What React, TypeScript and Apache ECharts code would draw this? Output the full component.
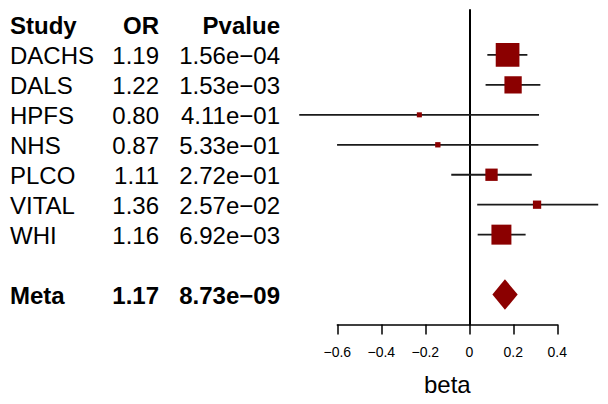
import React, { useEffect, useRef } from "react";
import * as echarts from "echarts";

const headers = ["Study", "OR", "Pvalue"];
const studies = ["DACHS", "DALS", "HPFS", "NHS", "PLCO", "VITAL", "WHI"];
const orValues = ["1.19", "1.22", "0.80", "0.87", "1.11", "1.36", "1.16"];
const pValues = ["1.56e\u221204", "1.53e\u221203", "4.11e\u221201", "5.33e\u221201", "2.72e\u221201", "2.57e\u221202", "6.92e\u221203"];
const beta = [0.174, 0.199, -0.227, -0.143, 0.101, 0.308, 0.146];
const lower = [0.082, 0.074, -0.773, -0.601, -0.082, 0.036, 0.038];
const upper = [0.264, 0.323, 0.317, 0.314, 0.284, 0.586, 0.256];
const weights = [37.7, 20.1, 1.7, 1.9, 10.2, 4.6, 26.8];

const metaLabel = ["Meta", "1.17", "8.73e\u221209"];
const metaBeta = 0.162;
const metaLower = 0.105;
const metaUpper = 0.22;

const xTicks = { min: -0.6, max: 0.4, interval: 0.2 };

const FONT = "'Liberation Sans', Arial, Helvetica, sans-serif";

export default function App() {
  const ref = useRef<HTMLDivElement>(null);
  useEffect(() => {
    document.body.style.margin = "0";
    if (!ref.current) return;
    const chart = echarts.init(ref.current, null, { renderer: "svg" });

    const tableRows: { row: number; cells: string[]; bold: boolean }[] = [];
    tableRows.push({ row: 0, cells: headers, bold: true });
    studies.forEach((s, i) =>
      tableRows.push({ row: i + 1, cells: [s, orValues[i], pValues[i]], bold: false })
    );
    tableRows.push({ row: studies.length + 2, cells: metaLabel, bold: true });

    const colX = [10, 159, 280];
    const colAlign = ["left", "right", "right"];

    const forestData = studies.map((s, i) => [beta[i], lower[i], upper[i], i + 1, weights[i]]);

    chart.setOption({
      animation: false,
      grid: { left: 337.3, width: 220, top: 10, height: 314.5 },
      xAxis: {
        type: "value",
        min: xTicks.min,
        max: xTicks.max,
        interval: xTicks.interval,
        name: "beta",
        nameLocation: "middle",
        nameGap: 48,
        nameTextStyle: { fontSize: 24, color: "#000", fontFamily: FONT },
        axisLine: { show: true, onZero: false, lineStyle: { color: "#000", width: 1.5 } },
        axisTick: { show: true, inside: false, length: 10, lineStyle: { color: "#000", width: 1.5 } },
        axisLabel: {
          fontSize: 14,
          color: "#000",
          fontFamily: FONT,
          margin: 20,
          formatter: (v: number) => {
            const r = Math.round(v * 10) / 10;
            return String(r).replace("-", "\u2212");
          },
        },
        splitLine: { show: false },
      },
      yAxis: {
        type: "value",
        inverse: true,
        min: -0.5,
        max: 10,
        axisLine: { show: true, onZero: true, lineStyle: { color: "#000", width: 2 } },
        axisTick: { show: false },
        axisLabel: { show: false },
        splitLine: { show: false },
      },
      series: [
        {
          type: "custom",
          clip: false,
          data: forestData,
          encode: { x: [0, 1, 2], y: 3 },
          renderItem: (params: any, api: any) => {
            const b = api.value(0);
            const lo = api.value(1);
            const hi = api.value(2);
            const r = api.value(3);
            const w = api.value(4);
            const p = api.coord([b, r]);
            const pl = api.coord([lo, r]);
            const ph = api.coord([hi, r]);
            const size = Math.max(5, 3.86 * Math.sqrt(w));
            return {
              type: "group",
              children: [
                {
                  type: "line",
                  shape: { x1: pl[0], y1: pl[1], x2: ph[0], y2: ph[1] },
                  style: { stroke: "#1a1a1a", lineWidth: 1.8 },
                },
                {
                  type: "rect",
                  shape: { x: p[0] - size / 2, y: p[1] - size / 2, width: size, height: size },
                  style: { fill: "#8B0000" },
                },
              ],
            };
          },
        },
        {
          type: "custom",
          clip: false,
          data: [[metaBeta, metaLower, metaUpper, studies.length + 2]],
          encode: { x: [0, 1, 2], y: 3 },
          renderItem: (params: any, api: any) => {
            const r = api.value(3);
            const c = api.coord([api.value(0), r]);
            const l = api.coord([api.value(1), r]);
            const h = api.coord([api.value(2), r]);
            const half = 15.3;
            return {
              type: "polygon",
              shape: {
                points: [
                  [l[0], l[1]],
                  [c[0], c[1] - half],
                  [h[0], h[1]],
                  [c[0], c[1] + half],
                ],
              },
              style: { fill: "#8B0000" },
            };
          },
        },
        {
          type: "custom",
          clip: false,
          data: tableRows.map((t) => [0, t.row]),
          encode: { x: 0, y: 1 },
          renderItem: (params: any, api: any) => {
            const t = tableRows[params.dataIndex];
            const y = api.coord([0, api.value(1)])[1];
            return {
              type: "group",
              children: t.cells.map((txt, k) => ({
                type: "text",
                x: colX[k],
                y: y + 1,
                style: {
                  text: txt,
                  fill: "#000",
                  font: `${t.bold ? "bold " : ""}24px ${FONT}`,
                  textAlign: colAlign[k],
                  textVerticalAlign: "middle",
                },
              })),
            };
          },
        },
      ],
    });
    return () => chart.dispose();
  }, []);
  return <div ref={ref} style={{ width: 608, height: 404 }} />;
}
